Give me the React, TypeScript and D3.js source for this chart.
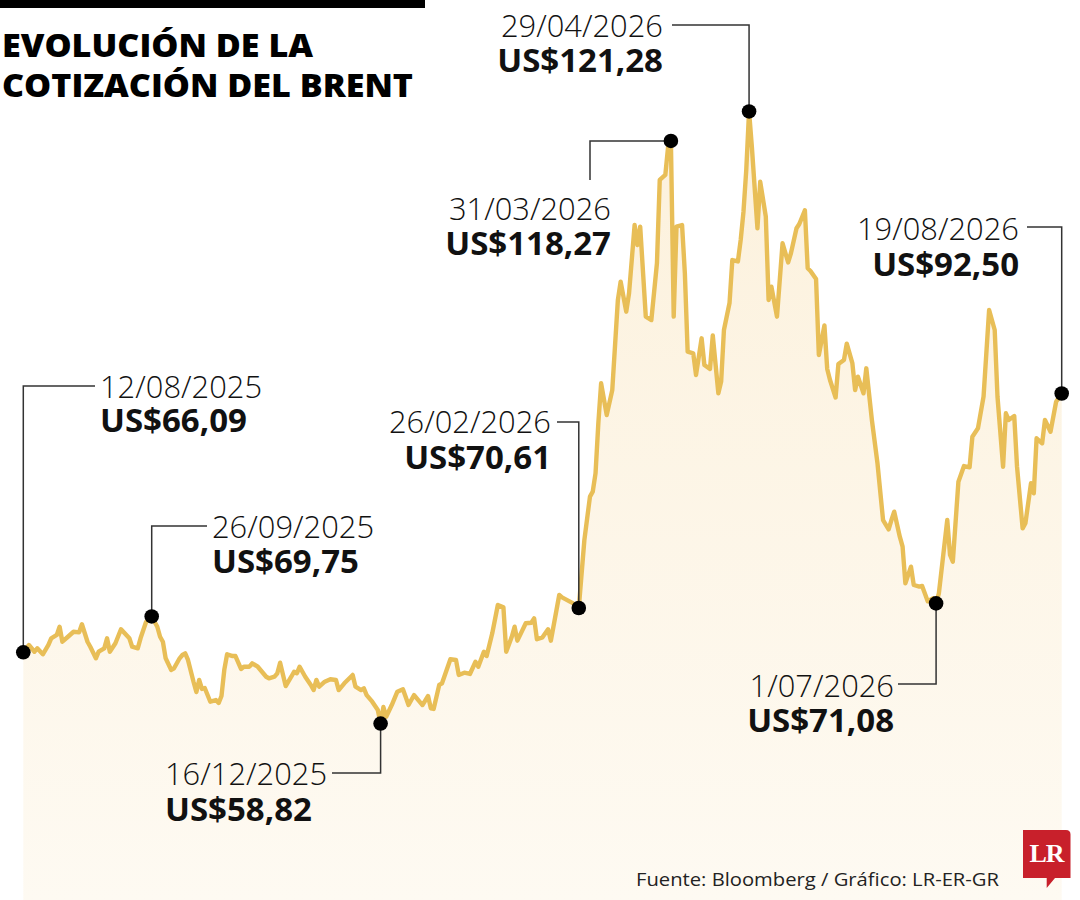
import React from "react";
import * as d3 from "d3";

// ---- DATA ----
const startDate = new Date(Date.UTC(2025, 7, 12));
const dayOffsets = [
  0, 2, 4, 5, 7, 9, 10, 12, 13, 14,
  16, 18, 20, 21, 23, 24, 26, 27, 29, 30,
  31, 33, 35, 38, 39, 41, 42, 44, 46, 48,
  49, 50, 51, 53, 54, 56, 57, 58, 59, 61,
  62, 63, 64, 65, 67, 69, 70, 71, 72, 73,
  75, 76, 78, 79, 81, 82, 84, 87, 88, 90,
  91, 92, 94, 96, 97, 98, 99, 101, 103, 104,
  105, 106, 108, 110, 112, 113, 115, 118, 119, 121,
  122, 123, 125, 127, 128, 129, 130, 132, 134, 136,
  137, 138, 140, 143, 145, 146, 147, 149, 150, 153,
  155, 156, 158, 160, 162, 163, 165, 166, 168, 170,
  172, 173, 175, 176, 177, 180, 182, 183, 184, 186,
  188, 189, 192, 193, 197, 199, 201, 203, 204, 205,
  206, 207, 209, 211, 213, 214, 216, 217, 219, 220,
  221, 223, 225, 227, 228, 230, 231, 232, 233, 234,
  236, 237, 238, 240, 241, 243, 244, 246, 247, 249,
  250, 251, 253, 254, 256, 257, 258, 259, 260, 261,
  263, 264, 266, 267, 268, 270, 272, 274, 275, 277,
  278, 280, 281, 282, 284, 285, 287, 288, 289, 291,
  292, 294, 295, 297, 298, 299, 301, 302, 304, 306,
  308, 310, 311, 312, 314, 315, 316, 318, 319, 321,
  322, 324, 326, 327, 328, 331, 332, 333, 335, 337,
  339, 340, 342, 344, 345, 346, 348, 349, 351, 352,
  353, 355, 356, 358, 359, 361, 362, 363, 365, 366,
  368, 370, 372,
];
const prices = [
  66.09, 66.84, 66.15, 66.5, 65.89, 66.84, 67.52, 67.86, 68.7, 67.17,
  67.68, 68.19, 68.13, 68.95, 67.17, 66.66, 65.48, 66.15, 66.5, 67.52,
  66.15, 67.01, 68.44, 67.52, 66.66, 66.5, 67.52, 69.21, 69.75, 68.7,
  67.68, 67.17, 65.48, 64.29, 64.46, 65.48, 65.82, 65.99, 65.31, 63.06,
  62.04, 63.27, 62.35, 62.45, 61.05, 61.22, 60.92, 61.63, 64.29, 65.89,
  65.71, 65.71, 64.39, 64.62, 64.62, 64.97, 64.62, 63.6, 63.44, 63.6,
  63.95, 65.03, 62.65, 63.6, 64.11, 63.95, 64.62, 63.6, 62.76, 62.24,
  63.27, 62.58, 63.09, 63.34, 63.27, 62.24, 62.93, 63.78, 62.58, 62.24,
  62.42, 61.73, 61.05, 60.2, 58.82, 60.51, 59.52, 60.71, 62.07, 62.32,
  61.53, 60.71, 61.73, 60.71, 61.63, 60.38, 60.31, 62.76, 62.93, 65.38,
  65.31, 63.78, 64.01, 63.88, 65.13, 64.62, 66.15, 65.71, 68.03, 70.92,
  70.68, 66.15, 67.68, 68.7, 67.28, 69.05, 69.11, 69.56, 67.42, 67.62,
  68.44, 67.28, 71.94, 71.7, 71.09, 70.61, 77.55, 81.97, 82.48, 84.36,
  89.46, 93.54, 90.31, 92.86, 102.04, 103.91, 100.85, 102.72, 109.69, 107.65,
  109.52, 100.34, 100.0, 105.79, 114.29, 114.8, 117.68, 118.27, 100.34, 109.52,
  109.69, 104.77, 96.77, 96.6, 94.39, 98.13, 95.41, 95.0, 98.42, 92.52,
  93.72, 98.98, 101.73, 106.12, 105.97, 108.16, 111.05, 115.31, 121.28, 117.68,
  109.36, 114.11, 110.54, 102.04, 103.4, 100.34, 107.83, 105.87, 106.81, 109.36,
  109.8, 111.19, 105.28, 105.0, 104.18, 96.43, 99.44, 95.0, 93.88, 92.09,
  95.51, 95.92, 97.58, 95.61, 92.86, 94.21, 92.52, 95.07, 89.8, 85.38,
  79.59, 78.64, 79.59, 80.44, 77.89, 76.87, 73.13, 74.83, 72.96, 72.79,
  72.86, 71.3, 71.6, 71.08, 72.11, 79.59, 76.02, 75.34, 83.5, 85.1,
  84.97, 88.09, 88.95, 92.17, 96.6, 101.02, 98.98, 92.17, 85.03, 90.48,
  89.8, 90.2, 85.03, 78.74, 79.26, 83.34, 82.32, 87.93, 87.42, 89.8,
  88.6, 91.66, 92.5,
];

// annotated points: day offset of the point, date label, value label
const annotationDays = [0, 46, 128, 199, 232, 260, 327, 372];
const annotationDates = [
  "12/08/2025", "26/09/2025", "16/12/2025", "26/02/2026",
  "31/03/2026", "29/04/2026", "1/07/2026", "19/08/2026",
];
const annotationValues = [
  "US$66,09", "US$69,75", "US$58,82", "US$70,61",
  "US$118,27", "US$121,28", "US$71,08", "US$92,50",
];

const titleLines = ["EVOLUCIÓN DE LA", "COTIZACIÓN DEL BRENT"];
const sourceText = "Fuente: Bloomberg / Gráfico: LR-ER-GR";
const logoText = "LR";

// ---- LAYOUT (positions / styles) ----
const W = 1080;
const H = 900;
type Callout = {
  mode: "vh" | "hv";
  elbowY: number;
  endX: number;
  tx: number;
  anchor: "start" | "end";
  dateY: number;
  valY: number;
};
const callouts: Callout[] = [
  { mode: "vh", elbowY: 386, endX: 95, tx: 100, anchor: "start", dateY: 398, valY: 432 },
  { mode: "vh", elbowY: 526, endX: 207, tx: 212, anchor: "start", dateY: 538, valY: 573 },
  { mode: "vh", elbowY: 773, endX: 332, tx: 165, anchor: "start", dateY: 785, valY: 821 },
  { mode: "vh", elbowY: 422, endX: 557, tx: 551, anchor: "end", dateY: 433, valY: 469 },
  { mode: "hv", elbowY: 180, endX: 590, tx: 611, anchor: "end", dateY: 220, valY: 255 },
  { mode: "vh", elbowY: 25, endX: 672, tx: 663, anchor: "end", dateY: 37, valY: 72 },
  { mode: "vh", elbowY: 684, endX: 898, tx: 894, anchor: "end", dateY: 697, valY: 732 },
  { mode: "vh", elbowY: 227, endX: 1027, tx: 1019, anchor: "end", dateY: 240, valY: 276 },
];

const LINE_COLOR = "#E8BE57";
const FONT = "'Open Sans', 'Noto Sans', sans-serif";

export default function App() {
  const data = dayOffsets.map((d, i) => ({
    date: d3.utcDay.offset(startDate, d),
    value: prices[i],
  }));

  const x = d3
    .scaleUtc()
    .domain([startDate, d3.utcDay.offset(startDate, 372)])
    .range([23.3, 1061.7]);
  const y = d3.scaleLinear().domain([40, 125]).range([908, 75]);

  const line = d3
    .line<{ date: Date; value: number }>()
    .x((d) => x(d.date))
    .y((d) => y(d.value));
  const area = d3
    .area<{ date: Date; value: number }>()
    .x((d) => x(d.date))
    .y0(H)
    .y1((d) => y(d.value));

  const points = annotationDays.map((day) => data[dayOffsets.indexOf(day)]);

  return (
    <div style={{ position: "absolute", left: 0, top: 0, width: W, height: H, background: "#fff" }}>
      <svg width={W} height={H} viewBox={`0 0 ${W} ${H}`} style={{ display: "block" }}>
        <defs>
          <linearGradient id="fillGrad" x1="0" y1="0" x2="0" y2="1" gradientUnits="objectBoundingBox">
            <stop offset="0%" stopColor="#FCF1DC" />
            <stop offset="100%" stopColor="#FEFAF2" />
          </linearGradient>
        </defs>
        <rect x={0} y={0} width={W} height={H} fill="#ffffff" />

        {/* top bar */}
        <rect x={0} y={0} width={425} height={8} fill="#000" />

        {/* title */}
        <text
          x={2}
          y={57}
          fontFamily={FONT}
          fontWeight={800}
          fontSize={32}
          fill="#000"
          textLength={311}
          lengthAdjust="spacingAndGlyphs"
        >
          {titleLines[0]}
        </text>
        <text
          x={2}
          y={97}
          fontFamily={FONT}
          fontWeight={800}
          fontSize={32}
          fill="#000"
          textLength={411}
          lengthAdjust="spacingAndGlyphs"
        >
          {titleLines[1]}
        </text>

        {/* area + line */}
        <path d={area(data) ?? ""} fill="url(#fillGrad)" />
        <path
          d={line(data) ?? ""}
          fill="none"
          stroke={LINE_COLOR}
          strokeWidth={4.4}
          strokeLinejoin="round"
          strokeLinecap="round"
        />

        {/* callouts */}
        {points.map((p, i) => {
          const c = callouts[i];
          const px = x(p.date);
          const py = y(p.value);
          const d =
            c.mode === "vh"
              ? `M${px},${py}V${c.elbowY}H${c.endX}`
              : `M${px},${py}H${c.endX}V${c.elbowY}`;
          return (
            <g key={i}>
              <path d={d} fill="none" stroke="#333" strokeWidth={1.5} />
              <circle cx={px} cy={py} r={7.3} fill="#000" />
              <text
                transform={`translate(${c.tx},${c.dateY}) scale(0.965,1)`}
                textAnchor={c.anchor}
                fontFamily={FONT}
                fontWeight={300}
                fontSize={32}
                fill="#111"
              >
                {annotationDates[i]}
              </text>
              <text
                x={c.tx}
                y={c.valY}
                textAnchor={c.anchor}
                fontFamily={FONT}
                fontWeight={700}
                fontSize={33}
                fill="#111"
              >
                {annotationValues[i]}
              </text>
            </g>
          );
        })}

        {/* source */}
        <text
          x={636}
          y={886}
          fontFamily={FONT}
          fontSize={18.5}
          fill="#222"
          textLength={363}
          lengthAdjust="spacingAndGlyphs"
        >
          {sourceText}
        </text>

        {/* LR logo */}
        <g>
          <path
            d="M1023,830 H1066 Q1070.5,830 1070.5,834.5 V878 H1055 L1046.7,888 V878 H1023 Z"
            fill="#C8202B"
          />
          <text
            x={1046.5}
            y={862}
            textAnchor="middle"
            fontFamily="'Liberation Serif', 'DejaVu Serif', serif"
            fontWeight={700}
            fontSize={26}
            fill="#fff"
            letterSpacing={-1}
          >
            {logoText}
          </text>
        </g>
      </svg>
    </div>
  );
}
